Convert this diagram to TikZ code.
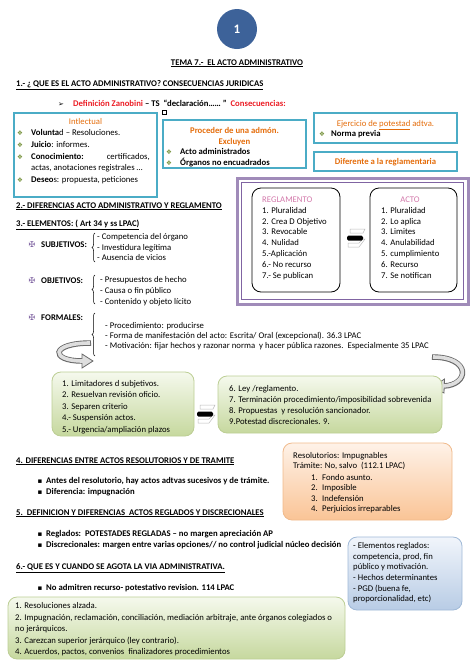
\documentclass[tikz,border=0pt]{standalone}
\usepackage{fontspec}
\setmainfont{Carlito}
\newfontfamily\symfont{DejaVu Sans}
\usepackage{xcolor}
\usepackage{tikz}
\usetikzlibrary{shapes, positioning, arrows.meta, decorations.pathreplacing}

\begin{document}
\begin{tikzpicture}[x=1pt, y=-1pt,
  txt/.style={anchor=base west, inner sep=0pt, font=\fontsize{8.7}{10}\selectfont},
  negr/.style={txt, font=\fontsize{8.7}{10}\selectfont\bfseries},
  vineta/.style={anchor=base, inner sep=0pt, text=verde, font=\symfont\fontsize{6.5}{7}\selectfont},
  cruz/.style={anchor=base, inner sep=0pt, text=morado, font=\symfont\fontsize{8}{8}\selectfont},
  cuadrito/.style={anchor=base, inner sep=0pt, font=\symfont\fontsize{7}{7}\selectfont},
  marco/.style={draw=turquesa, line width=1.6pt},
  llave/.style={decorate, decoration={brace, amplitude=3pt}, line width=0.5pt},
  caja/.style={rounded corners=9pt, line width=0.8pt}
]

% Define colors
\definecolor{azul}{RGB}{61,98,153}
\definecolor{turquesa}{RGB}{75,172,198}
\definecolor{naranja}{RGB}{228,108,10}
\definecolor{verde}{RGB}{118,146,60}
\definecolor{rojo}{RGB}{235,28,36}
\definecolor{morado}{RGB}{128,100,162}
\definecolor{rosa}{RGB}{210,120,170}
\definecolor{gris}{RGB}{105,105,105}
\definecolor{grisclaro}{RGB}{222,222,222}
\definecolor{verdearriba}{RGB}{245,249,237}
\definecolor{verdeabajo}{RGB}{198,216,158}
\definecolor{verdeborde}{RGB}{188,206,148}
\definecolor{naranjaarriba}{RGB}{254,242,232}
\definecolor{naranjaabajo}{RGB}{250,196,150}
\definecolor{naranjaborde}{RGB}{240,186,140}
\definecolor{azularriba}{RGB}{241,245,251}
\definecolor{azulabajo}{RGB}{184,204,229}
\definecolor{azulborde}{RGB}{160,185,215}

\useasboundingbox (0,0) rectangle (474,670);

% Numero de pagina
\node[circle, fill=azul, minimum size=40pt, inner sep=0pt, text=white, font=\bfseries\fontsize{13}{13}\selectfont] (num) at (237,29) {1};

% Titulos
\node[negr, anchor=base] (tema) at (237,65) {\underline{TEMA 7.-\ \ EL ACTO ADMINISTRATIVO}};
\node[negr] (t1) at (16,86) {\underline{1.- ¿ QUE ES EL ACTO ADMINISTRATIVO? CONSECUENCIAS JURIDICAS}};

\node[cuadrito] (flecha) at (61,106) {➢};
\node[negr] (zano) at (73,106) {\textcolor{rojo}{Definición Zanobini} – TS \ “declaración…… ” \ \textcolor{rojo}{Consecuencias:}};
\node[draw, line width=0.5pt, minimum size=4.5pt, inner sep=0pt] (cuadro) at (164,112) {};

% Intlectual
\draw[marco] (14,113) rectangle (157,197);
\node[txt, anchor=base, text=naranja] (intel) at (85.5,124) {Intlectual};
\node[vineta] (b1) at (20,135.5) {❖};
\node[txt] (vol) at (31,135.5) {\textbf{Volunta}d – Resoluciones.};
\node[vineta] (b2) at (20,147) {❖};
\node[txt] (jui) at (31,147) {\textbf{Juicio}: informes.};
\node[vineta] (b3) at (20,159) {❖};
\node[txt] (con) at (31,159) {\textbf{Conocimiento:}};
\node[txt, anchor=base east] (cert) at (150,159) {certificados,};
\node[txt] (act) at (31,170) {actas, anotaciones registrales …};
\node[vineta] (b4) at (20,182) {❖};
\node[txt] (des) at (31,182) {\textbf{Deseo}s: propuesta, peticiones};

% Proceder de una admon
\draw[marco] (163,120) rectangle (306,168);
\node[negr, anchor=base, text=naranja] (proc) at (234.5,133) {Proceder de una admón.};
\node[negr, anchor=base, text=naranja] (excl) at (234.5,144) {Excluyen};
\node[vineta] (b5) at (169,154.5) {❖};
\node[negr] (adm) at (180,154.5) {Acto administrados};
\node[vineta] (b6) at (169,165) {❖};
\node[negr] (org) at (180,165) {Órganos no encuadrados};

% Ejercicio de potestad
\draw[marco] (314,113) rectangle (457,143);
\node[txt, anchor=base, text=naranja] (ejer) at (385.5,126) {Ejercicio de \underline{potestad} adtva.};
\node[vineta] (b7) at (322,136) {❖};
\node[negr] (norma) at (331,136) {Norma previa};

\draw[marco] (314,152) rectangle (457,171);
\node[negr, anchor=base, text=naranja] (difer) at (385.5,164.5) {Diferente a la reglamentaria};

% Apartados 2 y 3
\node[negr] (t2) at (16,208) {\underline{2.- DIFERENCIAS ACTO ADMINISTRATIVO Y REGLAMENTO}};
\node[negr] (t3) at (16,226.5) {\underline{3.- ELEMENTOS: ( Art 34 y ss LPAC)}};

% Reglamento vs acto
\draw[morado!75, line width=3pt] (237,178) rectangle (468,304);
\draw[morado, line width=0.7pt] (241.5,182.5) rectangle (463.5,299.5);
\draw[caja] (252,188) rectangle (340,292);
\draw[caja] (370,188) rectangle (457,292);
\node[txt, text=rosa] (regl) at (262,202.5) {REGLAMENTO};
\foreach \t [count=\i] in {1. Pluralidad, 2. Crea D Objetivo, 3. Revocable, 4. Nulidad, 5.-Aplicación, 6.- No recurso, 7.- Se publican}
  \node[txt] (r\i) at (262,202.5+10.8*\i) {\t};
\node[txt, anchor=base, text=rosa] (acto) at (410,202.5) {ACTO};
\foreach \t [count=\i] in {1. Pluralidad, 2. Lo aplica, 3. Limites, 4. Anulabilidad, 5. cumplimiento, 6. Recurso, 7. Se notifican}
  \node[txt] (a\i) at (381,202.5+10.8*\i) {\t};

\begin{scope}[shift={(356,238)}]
  \draw[grisclaro!70!gris, line width=0.5pt] (-6,-9) -- (9,-9) -- (7,-5) -- (-6,-5) -- cycle;
  \draw[grisclaro!70!gris, line width=0.5pt] (-8,5) -- (3,5) -- (7,1) -- (9,1) -- (3,9) -- (-8,9) -- cycle;
  \fill[black, rounded corners=1.5pt] (-9,-2.5) rectangle (7,2.5);
\end{scope}

% Subjetivos
\node[cruz] (c1) at (32,247) {✠};
\node[negr] (subj) at (41,247) {SUBJETIVOS:};
\draw[llave] (95,262) -- (95,233);
\node[txt] (s1) at (97,239) {- Competencia del órgano};
\node[txt] (s2) at (97,250) {- Investidura legítima};
\node[txt] (s3) at (97,260.5) {- Ausencia de vicios};

% Objetivos
\node[cruz] (c2) at (32,283.5) {✠};
\node[negr] (obj) at (41,283.5) {OBJETIVOS:};
\draw[llave] (95,304) -- (95,275);
\node[txt] (o1) at (100,282.5) {- Presupuestos de hecho};
\node[txt] (o2) at (100,293.5) {- Causa o fin público};
\node[txt] (o3) at (100,304.5) {- Contenido y objeto lícito};

% Formales
\node[cruz] (c3) at (32,320) {✠};
\node[negr] (form) at (41,320) {FORMALES:};
\draw[llave] (95,356) -- (95,313);
\node[txt] (f1) at (105,328.5) {- Procedimiento: producirse};
\node[txt] (f2) at (105,338.5) {- Forma de manifestación del acto: Escrita/ Oral (excepcional). 36.3 LPAC};
\node[txt] (f3) at (105,348.5) {- Motivación: fijar hechos y razonar norma\ \ y hacer pública razones.\ \ Especialmente 35 LPAC};

% Flechas curvas
\draw[gris, line width=5.5pt] (91,343) .. controls (50,343) and (50,361) .. (82,361);
\filldraw[draw=gris, fill=grisclaro, line width=0.8pt] (82,354) -- (93,361) -- (82,368) -- cycle;
\draw[grisclaro, line width=3.6pt] (90,343) .. controls (50,343) and (50,361) .. (83,361);

\draw[gris, line width=5.5pt] (432,357) .. controls (472,357) and (469,385) .. (444,386);
\filldraw[draw=gris, fill=grisclaro, line width=0.8pt] (444.5,379) -- (432,387.5) -- (444,393) -- cycle;
\draw[grisclaro, line width=3.6pt] (433,357) .. controls (472,357) and (469,385) .. (443,386);

% Cajas verdes
\draw[caja, draw=verdeborde, top color=verdearriba, bottom color=verdeabajo] (52,372) rectangle (194,436);
\foreach \t [count=\i] in {1. Limitadores d subjetivos., 2. Resuelvan revisión oficio., 3. Separen criterio, 4.- Suspensión actos., 5.- Urgencia/ampliación plazos}
  \node[txt] (v\i) at (62,374.5+11.5*\i) {\t};

\draw[caja, draw=verdeborde, top color=verdearriba, bottom color=verdeabajo] (218,376) rectangle (442,433);
\node[txt] (w1) at (229,391) {6. Ley /reglamento.};
\node[txt] (w2) at (229,402) {7. Terminación procedimiento/imposibilidad sobrevenida};
\node[txt] (w3) at (229,413) {8. Propuestas\ \ y resolución sancionador.};
\node[txt] (w4) at (229,424) {9.Potestad discrecionales. 9.};

\begin{scope}[shift={(206,414)}]
  \draw[grisclaro!70!gris, line width=0.5pt] (-6,-9) -- (9,-9) -- (7,-5) -- (-6,-5) -- cycle;
  \draw[grisclaro!70!gris, line width=0.5pt] (-8,5) -- (3,5) -- (7,1) -- (9,1) -- (3,9) -- (-8,9) -- cycle;
  \fill[black, rounded corners=1.5pt] (-9,-2.5) rectangle (7,2.5);
\end{scope}

% Apartado 4
\node[negr] (t4) at (16,463) {\underline{4. DIFERENCIAS ENTRE ACTOS RESOLUTORIOS Y DE TRAMITE}};
\node[cuadrito] (q1) at (40,483) {▪};
\node[negr] (ant) at (46,483) {Antes del resolutorio, hay actos adtvas sucesivos y de trámite.};
\node[cuadrito] (q2) at (40,494) {▪};
\node[negr] (dif) at (46,494) {Diferencia: impugnación};

\draw[caja, draw=naranjaborde, top color=naranjaarriba, bottom color=naranjaabajo] (283,443) rectangle (452,520);
\node[txt] (res) at (293,458) {Resolutorios: Impugnables};
\node[txt] (tra) at (293,468) {Trámite: No, salvo\ \ (112.1 LPAC)};
\foreach \t [count=\i] in {Fondo asunto., Imposible, Indefensión, Perjuicios irreparables} {
  \node[txt, anchor=base east] (n\i) at (318,469.5+10.5*\i) {\i.};
  \node[txt] (p\i) at (322,469.5+10.5*\i) {\t};
}

% Apartado 5
\node[negr] (t5) at (16,515) {\underline{5.\ \ DEFINICION Y DIFERENCIAS\ \ ACTOS REGLADOS Y DISCRECIONALES}};
\node[cuadrito] (q3) at (40,536) {▪};
\node[negr] (regla) at (46,536) {Reglados:\ \ POTESTADES REGLADAS – no margen apreciación AP};
\node[cuadrito] (q4) at (40,547.5) {▪};
\node[negr] (discr) at (46,547.5) {Discrecionales: margen entre varias opciones// no control judicial núcleo decisión};

\draw[caja, draw=azulborde, top color=azularriba, bottom color=azulabajo] (348,537) rectangle (462,610);
\foreach \t [count=\i] in {- Elementos reglados:, {competencia, prod, fin}, público y motivación., - Hechos determinantes, {- PGD (buena fe,}, {proporcionalidad, etc)}}
  \node[txt] (e\i) at (353,538+10.6*\i) {\t};

% Apartado 6
\node[negr] (t6) at (16,569.5) {\underline{6.- QUE ES Y CUANDO SE AGOTA LA VIA ADMINISTRATIVA.}};
\node[cuadrito] (q5) at (40,590.5) {▪};
\node[negr] (noad) at (46,590.5) {No admitren recurso- potestativo revision. 114 LPAC};

\draw[caja, draw=verdeborde, top color=verdearriba, bottom color=verdeabajo] (8,597) rectangle (345,659);
\node[txt] (g1) at (15,608.5) {1. Resoluciones alzada.};
\node[txt] (g2) at (15,620) {2. Impugnación, reclamación, conciliación, mediación arbitraje, ante órganos colegiados o};
\node[txt] (g3) at (15,631.5) {no jerárquicos.};
\node[txt] (g4) at (15,643) {3. Carezcan superior jerárquico (ley contrario).};
\node[txt] (g5) at (15,654.5) {4. Acuerdos, pactos, convenios\ \ finalizadores procedimientos};

\end{tikzpicture}
\end{document}
